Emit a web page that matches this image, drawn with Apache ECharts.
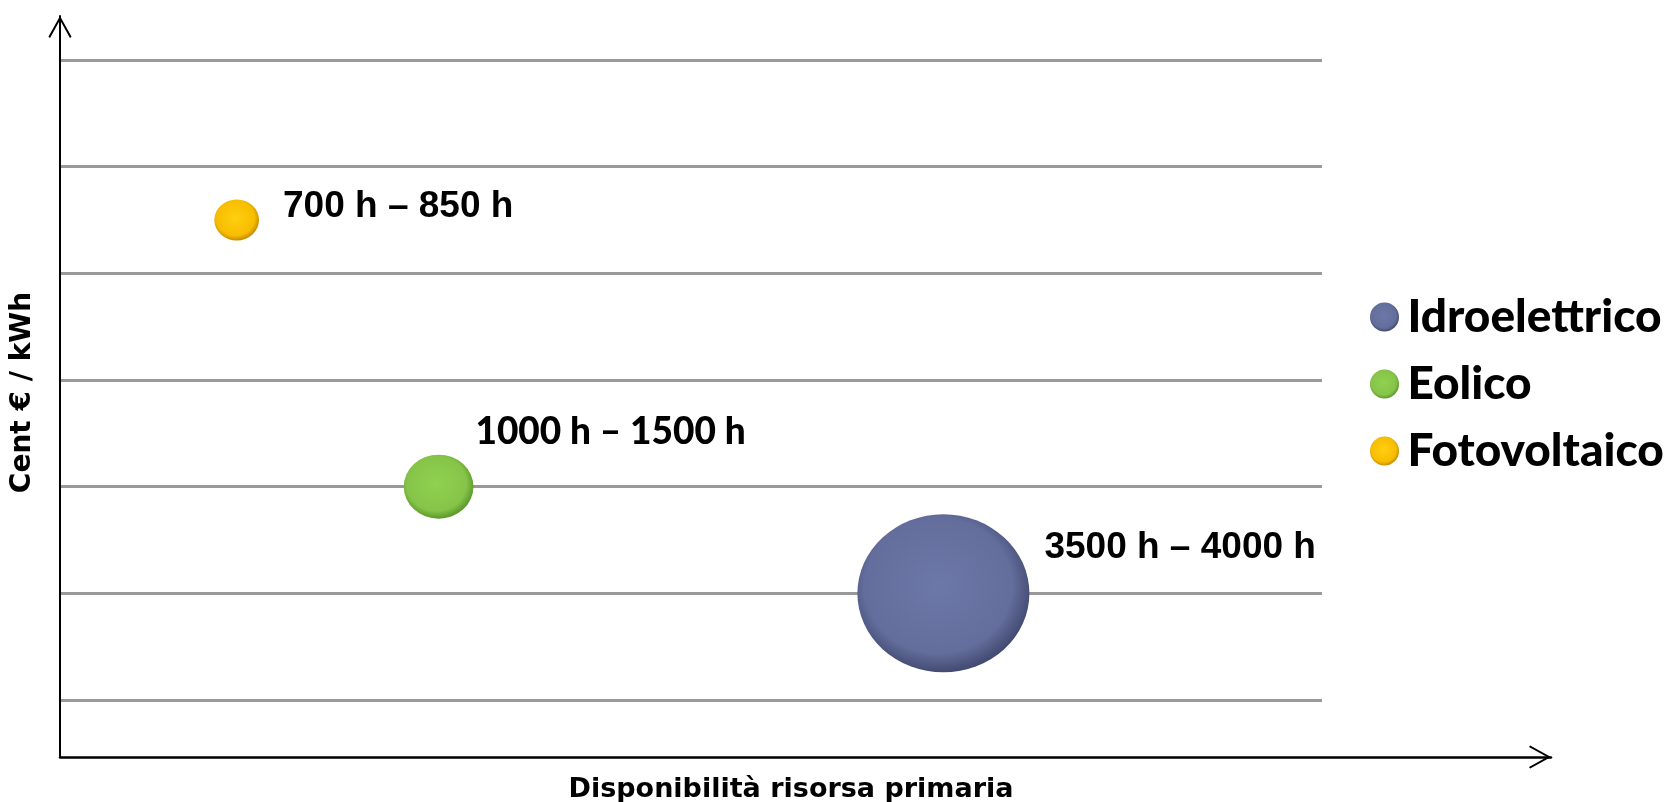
<!DOCTYPE html>
<html>
<head>
<meta charset="utf-8">
<script src="https://cdn.jsdelivr.net/npm/echarts@6/dist/echarts.min.js"></script>
<style>
html,body{margin:0;padding:0;background:#fff;}
#chart{width:1672px;height:802px;}
</style>
</head>
<body>
<div id="chart"></div>
<script>
// ---- data ----
const categories = ['Idroelettrico', 'Eolico', 'Fotovoltaico'];
const xValues = [7.0, 3.0, 1.4];          // disponibilità risorsa primaria (relative)
const yValues = [1.0, 2.0, 4.5];          // cent € / kWh (relative levels)
const bubbleValues = [100, 40.5, 26];     // relative bubble magnitude
const pointLabels = ['3500 h \u2013 4000 h', '1000 h \u2013 1500 h', '700 h \u2013 850 h'];
const yTicks = [0, 1, 2, 3, 4, 5, 6];

// ---- styling ----
const palettes = [
  ['#6c78a8', '#646e9c', '#434b72'],
  ['#90d150', '#86c449', '#5c972a'],
  ['#ffcf10', '#f8bd00', '#c58c00']
];
const labelStyles = [
  {fontFamily: 'Liberation Sans', fontSize: 37, fontWeight: 'bold', offset: [15, -46]},
  {fontFamily: 'Lato', fontSize: 37, fontWeight: 900, offset: [2, -55]},
  {fontFamily: 'Liberation Sans', fontSize: 37, fontWeight: 'bold', offset: [24, -13]}
];
const chevron = 'path://M50 0 L100 90 L93 95 L50 17 L7 95 L0 90 Z';

const series = categories.map(function (name, i) {
  const ls = labelStyles[i];
  return {
    name: name,
    type: 'scatter',
    xAxisIndex: 1,
    yAxisIndex: 1,
    data: [[xValues[i], yValues[i], bubbleValues[i]]],
    symbol: 'circle',
    symbolSize: function (v) { return [v[2] * 1.72, v[2] * 1.58]; },
    itemStyle: {
      opacity: 1,
      color: {
        type: 'radial', x: 0.47, y: 0.45, r: 0.55,
        colorStops: [
          {offset: 0, color: palettes[i][0]},
          {offset: 0.78, color: palettes[i][1]},
          {offset: 1, color: palettes[i][2]}
        ]
      }
    },
    label: {
      show: true,
      position: 'right',
      distance: 0,
      offset: ls.offset,
      formatter: function () { return pointLabels[i]; },
      color: '#000',
      fontFamily: ls.fontFamily,
      fontSize: ls.fontSize,
      fontWeight: ls.fontWeight
    },
    emphasis: {disabled: true},
    z: 3
  };
});

const chart = echarts.init(document.getElementById('chart'), null, {renderer: 'canvas'});
chart.setOption({
  backgroundColor: '#ffffff',
  animation: false,
  legend: {
    orient: 'vertical',
    left: 1365,
    top: 289,
    itemWidth: 36,
    itemHeight: 29,
    itemGap: 21,
    icon: 'circle',
    data: categories,
    textStyle: {fontFamily: 'Lato', fontWeight: 900, fontSize: 46, color: '#000'}
  },
  grid: [
    {left: 60, right: 121, top: 16, bottom: 45, containLabel: false, outerBoundsMode: 'none'},
    {left: 60, right: 350, top: 60, bottom: 102, containLabel: false, outerBoundsMode: 'none'}
  ],
  xAxis: [
    {
      gridIndex: 0, type: 'value', min: 0, max: 1,
      name: 'Disponibilità risorsa primaria',
      nameLocation: 'middle', nameGap: 19,
      nameTextStyle: {fontFamily: 'DejaVu Sans', fontWeight: 'bold', fontSize: 27, color: '#000', padding: [0, 29, 0, 0]},
      axisLine: {show: true, onZero: false, symbol: ['none', chevron], symbolSize: [24, 22], symbolOffset: [0, -11],
        lineStyle: {color: '#000', width: 2.5}},
      axisTick: {show: false}, axisLabel: {show: false}, splitLine: {show: false}
    },
    {
      gridIndex: 1, type: 'value', min: 0, max: 10, show: false
    }
  ],
  yAxis: [
    {
      gridIndex: 0, type: 'value', min: 0, max: 1,
      name: 'Cent € / kWh',
      nameLocation: 'middle', nameGap: 23, nameRotate: 90,
      nameTextStyle: {fontFamily: 'DejaVu Sans', fontWeight: 'bold', fontSize: 28, color: '#000', padding: [0, 12, 0, 0]},
      axisLine: {show: true, onZero: false, symbol: ['none', chevron], symbolSize: [24, 22], symbolOffset: [0, -11],
        lineStyle: {color: '#000', width: 2}},
      axisTick: {show: false}, axisLabel: {show: false}, splitLine: {show: false}
    },
    {
      gridIndex: 1, type: 'value',
      min: yTicks[0], max: yTicks[yTicks.length - 1], interval: 1,
      axisLine: {show: false}, axisTick: {show: false}, axisLabel: {show: false},
      splitLine: {show: true, lineStyle: {color: '#999999', width: 3}}
    }
  ],
  series: series
});
</script>
</body>
</html>
